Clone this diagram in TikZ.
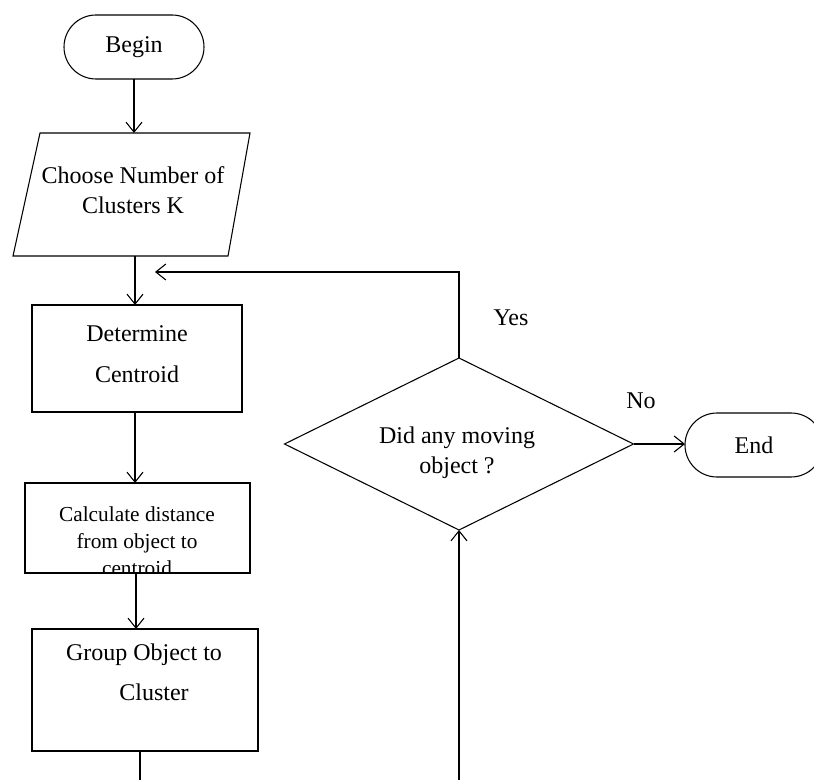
\documentclass[tikz,border=0pt]{standalone}
\usepackage{fontspec}
\setmainfont{Liberation Serif}
\usetikzlibrary{shapes.misc,shapes.geometric,arrows.meta}
\begin{document}
\begin{tikzpicture}[x=0.75pt,y=-0.75pt,
  line width=0.8pt,
  arr/.style={-{Straight Barb[length=7.5pt,width=12pt,line width=0.8pt]}},
  txt/.style={font=\fontsize{18}{22}\selectfont, inner sep=0pt, align=center},
  smalltxt/.style={font=\fontsize{16}{20}\selectfont, inner sep=0pt, align=center},
  boxnode/.style={draw, rectangle, inner sep=0pt, outer sep=0pt},
  stadium/.style={draw, rounded rectangle, inner sep=0pt, outer sep=0pt, minimum height=48pt}
]
\useasboundingbox (0,0) rectangle (814,780);

% Begin
\node[stadium, minimum width=105pt] (begin) at (134,47) {};
\node[txt] (begin-t) at (134,47) {Begin};

% Parallelogram
\coordinate (p-tl) at (40,133);
\coordinate (p-tr) at (250,133);
\coordinate (p-br) at (228,256);
\coordinate (p-bl) at (13,256);
\draw (p-tl) -- (p-tr) -- (p-br) -- (p-bl) -- cycle;
\coordinate (p-top) at (134,133);
\coordinate (p-bot) at (135,256);
\node[txt, font=\fontsize{18}{22.5}\selectfont] (choose) at (133,190) {Choose Number of\\Clusters K};

% Determine
\node[boxnode, minimum width=157.5pt, minimum height=80.25pt] (det) at (137,358.5) {};
\node[txt, font=\fontsize{18}{30.75}\selectfont] (det-t) at (137,354) {Determine\\Centroid};

% Calculate
\node[boxnode, minimum width=168.75pt, minimum height=67.5pt] (calc) at (137.5,528) {};
\begin{scope}
\clip (calc.south west) rectangle (calc.north east);
\node[smalltxt, font=\fontsize{16}{20.25}\selectfont] (calc-t) at (137,541) {Calculate distance\\from object to\\centroid};
\end{scope}

% Group
\node[boxnode, minimum width=169.5pt, minimum height=91.5pt] (grp) at (145,690) {};
\node[txt] (grp-t1) at (144,655) {Group Object to};
\node[txt] (grp-t2) at (154,692) {Cluster};

% Diamond
\node[draw, diamond, inner sep=0pt, outer sep=0pt, minimum width=261.75pt, minimum height=129pt] (dec) at (459,444) {};
\node[txt, font=\fontsize{18}{22.5}\selectfont] (dec-t) at (457,453) {Did any moving\\object ?};

% End
\node[stadium, minimum width=103.5pt] (end) at (754,445) {};
\node[txt] (end-t) at (754,445) {End};

% Labels
\node[txt] (yes) at (511,318) {Yes};
\node[txt] (no) at (641,401) {No};

% Connectors
\draw[arr] (begin.south) -- (p-top);
\draw[arr] (p-bot) -- (p-bot |- det.north);
\draw[arr] (det.south -| p-bot) -- (p-bot |- calc.north);
\draw[arr] (calc.south -| 136,0) -- (136,0 |- grp.north);
\coordinate (grp-out) at (140,780);
\draw (grp-out |- grp.south) -- (grp-out);
\coordinate (loop-end) at (155,272);
\draw[arr] (dec.north) -- (dec.north |- loop-end) -- (loop-end);
\draw[arr] (dec.east) -- (dec.east -| end.west);
\coordinate (dec-in) at (459,780);
\draw[arr] (dec-in) -- (dec.south);
\end{tikzpicture}
\end{document}
